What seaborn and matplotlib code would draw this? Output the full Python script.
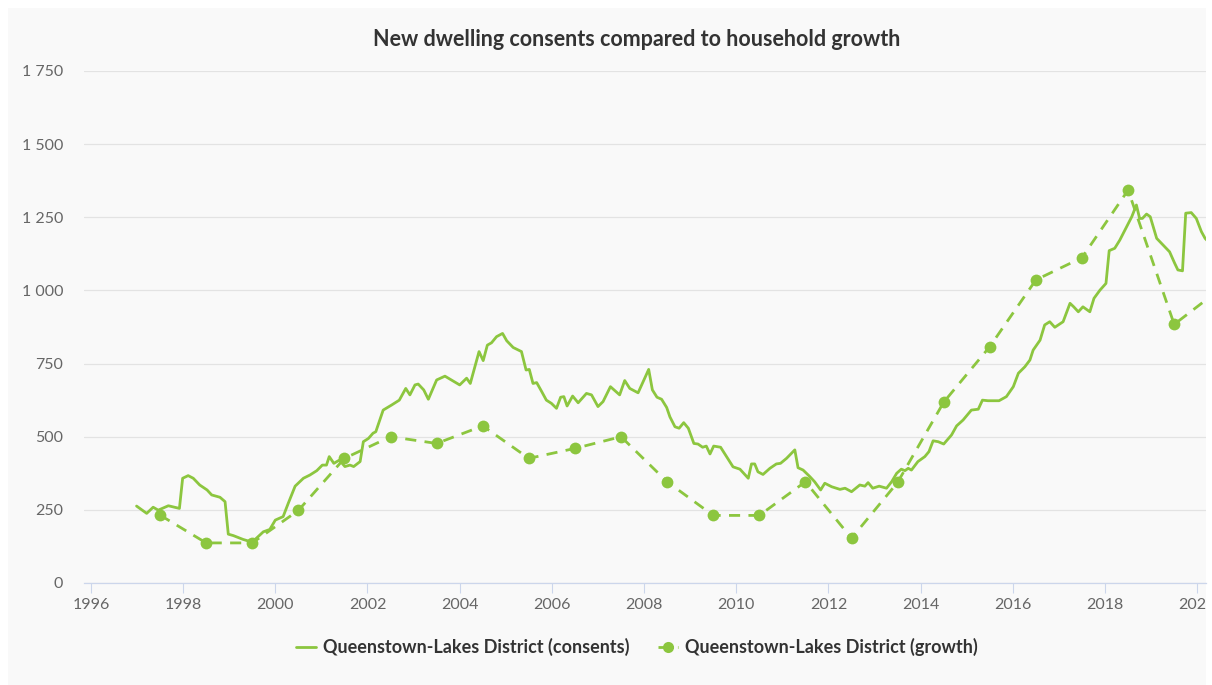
import matplotlib
matplotlib.use("Agg")
import matplotlib.pyplot as plt
import seaborn as sns
from matplotlib.patches import Rectangle
from matplotlib.lines import Line2D
from matplotlib.ticker import FuncFormatter
from matplotlib.transforms import Bbox, TransformedBbox

# ---------------- data ----------------
title = "New dwelling consents compared to household growth"
consents_label = "Queenstown-Lakes District (consents)"
growth_label = "Queenstown-Lakes District (growth)"

consents_year = [
    1996.99, 1997.21, 1997.35, 1997.46, 1997.68, 1997.92, 1997.99, 1998.11, 1998.22, 1998.36,
    1998.52, 1998.62, 1998.80, 1998.91, 1998.98, 1999.09, 1999.30, 1999.49, 1999.59, 1999.74,
    1999.88, 2000.00, 2000.17, 2000.28, 2000.43, 2000.61, 2000.75, 2000.90, 2001.02, 2001.11,
    2001.17, 2001.27, 2001.39, 2001.51, 2001.62, 2001.70, 2001.84, 2001.91, 2002.02, 2002.12,
    2002.18, 2002.34, 2002.52, 2002.69, 2002.83, 2002.92, 2003.03, 2003.10, 2003.22, 2003.32,
    2003.50, 2003.68, 2003.82, 2004.00, 2004.15, 2004.23, 2004.42, 2004.51, 2004.60, 2004.69,
    2004.80, 2004.93, 2005.02, 2005.16, 2005.34, 2005.44, 2005.51, 2005.59, 2005.67, 2005.78,
    2005.88, 2005.99, 2006.10, 2006.19, 2006.26, 2006.33, 2006.45, 2006.57, 2006.75, 2006.86,
    2007.00, 2007.11, 2007.27, 2007.47, 2007.58, 2007.69, 2007.87, 2008.10, 2008.18, 2008.28,
    2008.38, 2008.49, 2008.56, 2008.67, 2008.76, 2008.86, 2008.96, 2009.08, 2009.17, 2009.27,
    2009.35, 2009.43, 2009.51, 2009.66, 2009.79, 2009.93, 2010.08, 2010.26, 2010.33, 2010.40,
    2010.47, 2010.58, 2010.73, 2010.87, 2010.96, 2011.09, 2011.27, 2011.34, 2011.45, 2011.60,
    2011.70, 2011.83, 2011.92, 2012.07, 2012.25, 2012.36, 2012.50, 2012.68, 2012.79, 2012.86,
    2012.96, 2013.10, 2013.26, 2013.37, 2013.48, 2013.58, 2013.66, 2013.73, 2013.80, 2013.94,
    2014.09, 2014.18, 2014.27, 2014.38, 2014.50, 2014.67, 2014.78, 2014.92, 2015.10, 2015.25,
    2015.34, 2015.46, 2015.70, 2015.86, 2016.01, 2016.12, 2016.26, 2016.37, 2016.44, 2016.59,
    2016.69, 2016.80, 2016.91, 2017.09, 2017.24, 2017.32, 2017.42, 2017.52, 2017.67, 2017.76,
    2017.89, 2018.02, 2018.09, 2018.21, 2018.32, 2018.45, 2018.58, 2018.68, 2018.75, 2018.81,
    2018.90, 2018.98, 2019.12, 2019.26, 2019.40, 2019.51, 2019.58, 2019.68, 2019.75, 2019.87,
    2019.98, 2020.09, 2020.17, 2020.25,
]
consents_value = [
    263, 238, 259, 249, 264, 255, 358, 367, 358, 335,
    318, 301, 293, 278, 167, 162, 149, 140, 153, 175,
    183, 215, 227, 272, 331, 358, 369, 384, 403, 403,
    432, 409, 420, 398, 403, 398, 415, 483, 494, 512,
    517, 591, 608, 625, 665, 643, 677, 680, 660, 628,
    694, 707, 694, 677, 700, 682, 791, 760, 813, 821,
    842, 853, 828, 805, 791, 728, 730, 682, 685, 654,
    625, 614, 597, 635, 637, 605, 639, 616, 648, 643,
    603, 620, 671, 643, 692, 665, 650, 730, 660, 635,
    628, 600, 568, 534, 529, 548, 529, 477, 475, 464,
    468, 441, 468, 464, 432, 397, 389, 358, 407, 407,
    380, 371, 392, 407, 409, 426, 455, 394, 386, 363,
    346, 318, 341, 329, 320, 324, 312, 335, 331, 343,
    324, 331, 324, 346, 375, 389, 384, 392, 386, 415,
    432, 449, 486, 483, 475, 506, 537, 557, 591, 594,
    625, 623, 623, 637, 671, 717, 739, 762, 796, 830,
    882, 893, 874, 893, 956, 944, 927, 944, 927, 973,
    1001, 1024, 1136, 1144, 1172, 1212, 1252, 1292, 1246, 1246,
    1261, 1252, 1178, 1155, 1132, 1093, 1070, 1067, 1264, 1266,
    1246, 1201, 1178, 1165,
]

growth_year = [1997.5, 1998.5, 1999.5, 2000.5, 2001.5, 2002.5, 2003.5, 2004.5,
               2005.5, 2006.5, 2007.5, 2008.5, 2009.5, 2010.5, 2011.5, 2012.5,
               2013.5, 2014.5, 2015.5, 2016.5, 2017.5, 2018.5, 2019.5, 2020.5]
growth_value = [232, 137, 137, 248, 426, 500, 477, 537,
                426, 460, 500, 346, 231, 231, 346, 153,
                344, 618, 808, 1036, 1112, 1343, 884, 1005]

x_ticks = list(range(1996, 2021, 2))
y_ticks = [0, 250, 500, 750, 1000, 1250, 1500, 1750]

# ---------------- style ----------------
sns.set_theme(style="white")
plt.rcParams["font.family"] = ["Lato", "DejaVu Sans"]

W, H = 1212, 685
GREEN = "#8cc63f"
fig = plt.figure(figsize=(W / 100, H / 100), dpi=100, facecolor="white")
fig.patches.append(Rectangle((8 / W, 0), (1206 - 8) / W, (H - 8) / H,
                             transform=fig.transFigure, facecolor="#f9f9f9",
                             edgecolor="none", zorder=-10))

ax = fig.add_axes([84 / W, 102 / H, (1206 - 84) / W, (583 - 71) / H])
ax.set_facecolor("none")
ax.set_zorder(5)

sns.lineplot(x=consents_year, y=consents_value, ax=ax, color=GREEN,
             linewidth=2.0, legend=False, zorder=3)
sns.lineplot(x=growth_year, y=growth_value, ax=ax, color=GREEN,
             linewidth=2.0, dashes=False, marker="o", markersize=8.5,
             markeredgewidth=0, legend=False, zorder=4)
ax.lines[-1].set_linestyle((0, (4, 3)))

ax.set_xlim(1995.85, 2020.19)
ax.set_ylim(0, 1750)
ax.set_xticks(x_ticks)
ax.set_yticks(y_ticks)
ax.yaxis.set_major_formatter(FuncFormatter(lambda v, p: f"{int(v):,}".replace(",", " ")))
ax.set_xlabel("")
ax.set_ylabel("")

ax.grid(False)
ax.yaxis.grid(True, color="#e3e3e3", linewidth=0.9)
ax.set_axisbelow(True)
for s in ["top", "right", "left"]:
    ax.spines[s].set_visible(False)
ax.spines["bottom"].set_color("#ccd6eb")
ax.spines["bottom"].set_linewidth(0.9)

ax.tick_params(axis="x", direction="out", length=7.5, width=0.8, color="#ccd6eb",
               labelsize=11.5, labelcolor="#666666", pad=3.5, bottom=True)
ax.tick_params(axis="y", length=0, labelsize=11.5, labelcolor="#666666", pad=15)

clip = TransformedBbox(Bbox([[0, 0], [1206 / W, 1]]), fig.transFigure)
for t in ax.xaxis.get_major_ticks():
    t.label1.set_clip_box(clip)
    t.label1.set_clip_on(True)

fig.text(637 / W, 1 - 40 / H, title, ha="center", va="center",
         fontsize=15.5, fontweight="bold", color="#333333")

handles = [
    Line2D([], [], color=GREEN, linewidth=2.0),
    Line2D([], [], color=GREEN, linewidth=2.0, linestyle=(0, (2, 1.5)),
           marker="o", markersize=8, markeredgewidth=0),
]
fig.legend(handles, [consents_label, growth_label], loc="center",
           bbox_to_anchor=(637 / W, 38 / H), ncol=2, frameon=False,
           handlelength=1.1, handletextpad=0.4, columnspacing=1.6,
           prop={"weight": "bold", "size": 13}, labelcolor="#333333")

fig.savefig("out.png", dpi=100, facecolor="white")
